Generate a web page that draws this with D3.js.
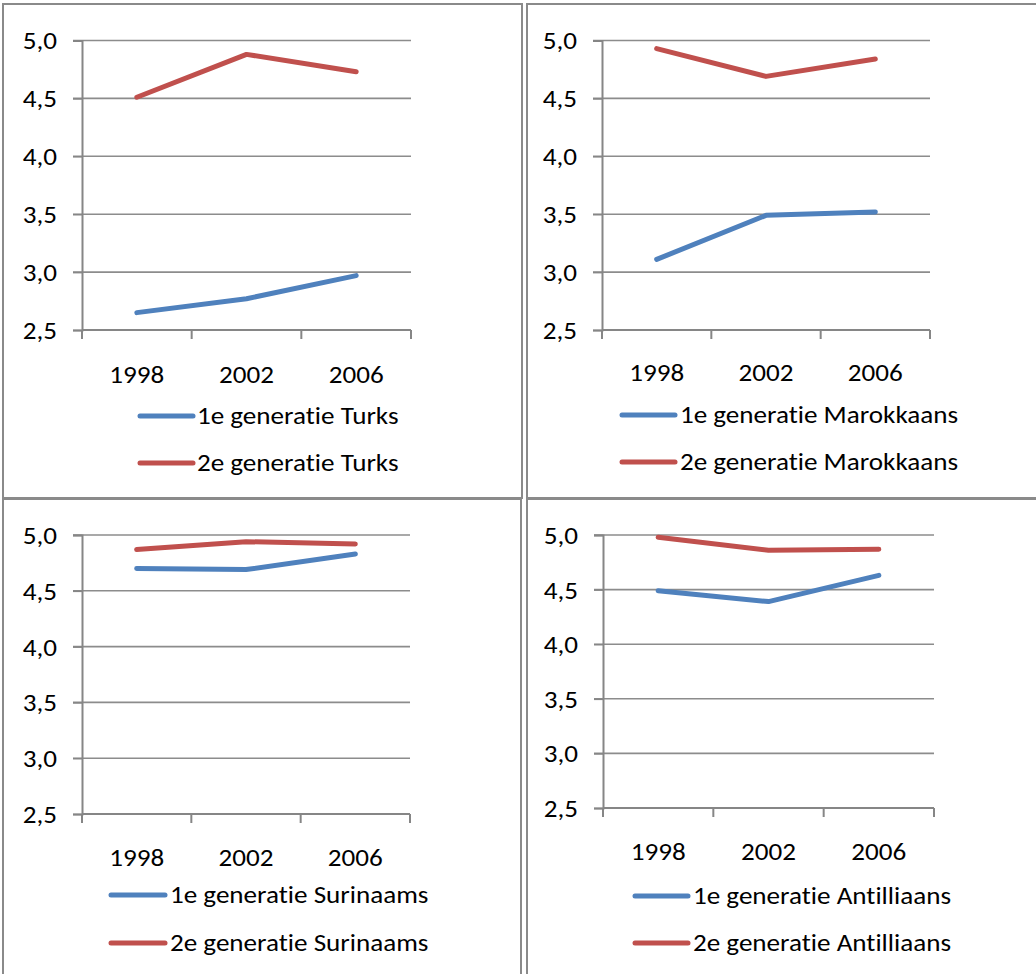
<!DOCTYPE html>
<html><head><meta charset="utf-8">
<script src="https://cdn.jsdelivr.net/npm/d3@7"></script>
<style>
html,body{margin:0;padding:0;background:#fff;}
svg{display:block;}
text{font-family:Calibri, Carlito, 'Open Sans', sans-serif;fill:#000;font-variant-ligatures:none;font-feature-settings:"liga" 0;}
</style></head>
<body><svg id="c" width="1036" height="974"></svg>
<script>
// ---- data ----
const years = ["1998", "2002", "2006"];
const yTicks = [2.5, 3.0, 3.5, 4.0, 4.5, 5.0];
const groups = ["Turks", "Marokkaans", "Surinaams", "Antilliaans"];
const gen1 = [
  [2.65, 2.77, 2.97],
  [3.11, 3.49, 3.52],
  [4.70, 4.69, 4.83],
  [4.49, 4.39, 4.63]
];
const gen2 = [
  [4.51, 4.88, 4.73],
  [4.93, 4.69, 4.84],
  [4.87, 4.94, 4.92],
  [4.98, 4.86, 4.87]
];
const seriesNames = ["1e generatie", "2e generatie"];
const colors = ["#4F81BD", "#C0504D"];

// ---- layout ----
const panels = [
  {frame:[3,4,519,494], x0:82, x1:411, yTop:40.5, yBot:330, labY:375, leg:[416,463], lx:[140,193], tx:197},
  {frame:[527,4,520,494], x0:602, x1:930, yTop:40.5, yBot:330, labY:373, leg:[415,462], lx:[622,675], tx:680},
  {frame:[3,499,518,490], x0:82, x1:410, yTop:535, yBot:814, labY:858, leg:[895,943], lx:[111,165], tx:170},
  {frame:[527,499,520,490], x0:603, x1:934, yTop:535, yBot:808, labY:852, leg:[896,943], lx:[635,688], tx:693}
];
const SX = 1.13;       // horizontal glyph stretch seen in the reference
const FS = "24px";

const svg = d3.select("#c");
svg.append("rect").attr("width",1036).attr("height",974).attr("fill","#fff");
const fmt = v => d3.format(".1f")(v).replace(".", ",");
function stretched(sel, xf) {
  sel.attr("x", (d, i) => (typeof xf === "function" ? xf(d, i) : xf) / SX)
     .attr("transform", `scale(${SX},1)`)
     .style("font-size", FS);
  return sel;
}

panels.forEach((p, i) => {
  const g = svg.append("g");
  g.append("rect").attr("x",p.frame[0]).attr("y",p.frame[1]).attr("width",p.frame[2]).attr("height",p.frame[3])
    .attr("fill","none").attr("stroke","#8a8a8a").attr("stroke-width",2);

  const x = d3.scaleBand().domain(years).range([p.x0, p.x1]);
  const y = d3.scaleLinear().domain([2.5, 5.0]).range([p.yBot, p.yTop]);

  // gridlines
  g.selectAll(".grid").data(yTicks.filter(t => t > 2.5)).join("line")
    .attr("x1", p.x0 - 9).attr("x2", p.x1)
    .attr("y1", d => y(d)).attr("y2", d => y(d))
    .attr("stroke","#8c8c8c").attr("stroke-width",1.6);
  // y axis
  const ya = g.append("g").attr("transform",`translate(${p.x0},0)`)
    .call(d3.axisLeft(y).tickValues(yTicks).tickSize(9).tickFormat(fmt));
  ya.select(".domain").attr("stroke","#868686").attr("stroke-width",2);
  ya.selectAll(".tick line").attr("stroke","#868686").attr("stroke-width",1.6);
  stretched(ya.selectAll(".tick text"), -25).attr("dy","0.35em").attr("fill","#000");
  // x axis
  const xa = g.append("g").attr("transform",`translate(0,${p.yBot})`)
    .call(d3.axisBottom(x).tickSize(0).tickFormat(""));
  xa.select(".domain").attr("stroke","#868686").attr("stroke-width",2).attr("d", `M${p.x0},0H${p.x1}`);
  // category boundary ticks
  const bounds = years.map(yr => x(yr)).concat([p.x1]);
  g.selectAll(".xt").data(bounds).join("line")
    .attr("x1", d => d).attr("x2", d => d)
    .attr("y1", p.yBot).attr("y2", p.yBot + 9)
    .attr("stroke","#868686").attr("stroke-width",2);
  stretched(g.selectAll(".xl").data(years).join("text"), d => x(d) + x.bandwidth()/2)
    .attr("y", p.labY)
    .attr("text-anchor","middle").attr("dominant-baseline","central")
    .text(d => d);

  // lines
  const line = d3.line().x((d, k) => x(years[k]) + x.bandwidth()/2).y(d => y(d));
  [gen1[i], gen2[i]].forEach((vals, s) => {
    g.append("path").attr("d", line(vals)).attr("fill","none")
      .attr("stroke", colors[s]).attr("stroke-width",5)
      .attr("stroke-linecap","round").attr("stroke-linejoin","round");
  });

  // legend
  seriesNames.forEach((nm, s) => {
    g.append("line").attr("x1", p.lx[0]).attr("x2", p.lx[1])
      .attr("y1", p.leg[s]).attr("y2", p.leg[s])
      .attr("stroke", colors[s]).attr("stroke-width",5).attr("stroke-linecap","round");
    stretched(g.append("text"), p.tx).attr("y", p.leg[s]).attr("dominant-baseline","central")
      .text(nm + " " + groups[i]);
  });
});
</script></body></html>
